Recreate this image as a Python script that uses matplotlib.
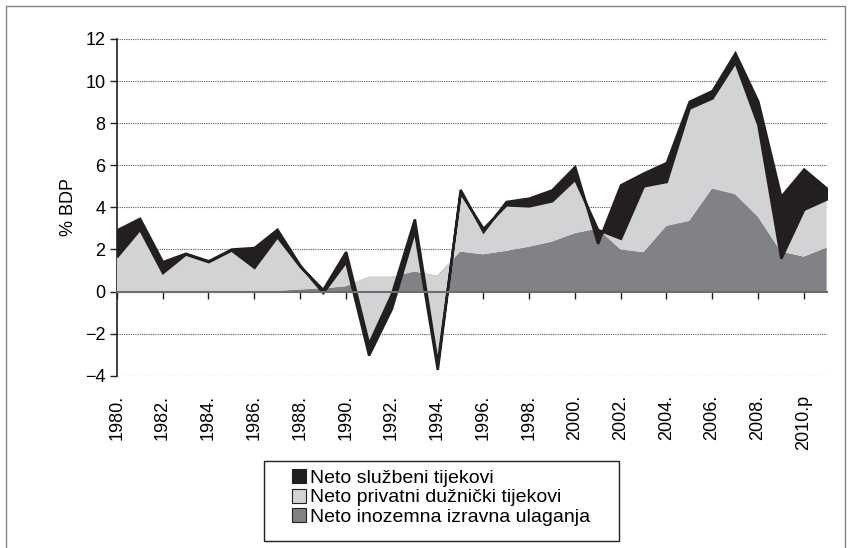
import matplotlib
matplotlib.use("Agg")
import matplotlib.pyplot as plt
from matplotlib.patches import Patch, Rectangle
from matplotlib.lines import Line2D

plt.rcParams["font.family"] = ["Liberation Sans", "DejaVu Sans"]

# data: % of GDP
years = list(range(1980, 2012))
fdi = [0, 0, 0, 0, 0, 0, 0, 0.03, 0.1, 0.15, 0.25, 0.7, 0.7, 0.95, 0.75, 1.9,
       1.77, 1.93, 2.13, 2.37, 2.77, 3.0, 2.0, 1.87, 3.12, 3.36, 4.9, 4.63, 3.56,
       1.9, 1.66, 2.09]
private = [1.66, 2.96, 0.9, 1.78, 1.42, 1.97, 1.15, 2.58, 1.1, -0.05, 1.65, -3.17,
           -0.8, 2.5, -4.15, 2.8, 1.23, 2.19, 1.94, 1.94, 2.57, -0.05, 0.53, 3.15,
           2.11, 5.36, 4.3, 6.27, 4.37, -0.32, 2.25, 2.31]
official = [1.27, 0.52, 0.52, 0.04, 0.04, 0.05, 0.94, 0.35, 0.05, -0.15, -0.48, -0.55,
            -0.7, -0.55, -0.3, 0.15, -0.15, 0.16, 0.37, 0.52, 0.6, -0.66, 2.54, 0.61,
            0.9, 0.32, 0.35, 0.44, 1.11, 2.94, 1.91, 0.51]

tick_years = list(range(1980, 2011, 2))
tick_labels = [str(y) + "." for y in tick_years[:-1]] + ["2010.p"]
series_names = ["Neto službeni tijekovi", "Neto privatni dužnički tijekovi",
                "Neto inozemna izravna ulaganja"]

c_black = "#231f20"
c_light = "#d1d3d4"
c_dark = "#808285"

W, H = 851, 548
fig = plt.figure(figsize=(W / 100, H / 100), dpi=100)
ax = fig.add_axes([116.7 / W, 1 - 375.7 / H, (826.6 - 116.7) / W, (375.7 - 39) / H])

# stacked areas, later series paint over earlier ones (like the original)
polys = ax.stackplot(years, fdi, private, official,
                     colors=[c_dark, c_light, c_black], zorder=3)
polys[0].set_edgecolor("none")
polys[1].set_edgecolor("none")
polys[2].set_edgecolor(c_black)
polys[2].set_linewidth(1.8)
polys[2].set_joinstyle("miter")

ax.set_xlim(1980, 2011)
ax.set_ylim(-4, 12)
ax.set_yticks(range(-4, 13, 2))
ax.tick_params(axis="y", labelsize=13, length=5, width=1, color="#231f20", pad=3)
for y in range(-4, 13, 2):
    if y != 0:
        ax.axhline(y, color="#58595b", lw=0.8, ls=(0, (1, 1)), zorder=1)

for s in ["top", "right"]:
    ax.spines[s].set_visible(False)
ax.spines["left"].set_color("#231f20")
ax.spines["left"].set_linewidth(1.2)
ax.spines["bottom"].set_position(("data", 0))
ax.spines["bottom"].set_color("#6d6e71")
ax.spines["bottom"].set_linewidth(1.5)
ax.spines["bottom"].set_zorder(5)
ax.set_xticks(tick_years)
ax.set_xticklabels([])
ax.tick_params(axis="x", length=5, width=1, color="#231f20", direction="out")

for yr, lab in zip(tick_years, tick_labels):
    ax.text(yr, -0.057, lab, transform=ax.get_xaxis_transform(), rotation=90,
            ha="center", va="top", fontsize=13)

ax.set_ylabel("% BDP", fontsize=13, labelpad=6)

# legend
handles = [Patch(facecolor=c, edgecolor="#231f20", lw=0.8)
           for c in [c_black, c_light, c_dark]]
fig.legend(handles, series_names, loc="upper left",
           bbox_to_anchor=(292 / W, 1 - 469 / H), frameon=False, fontsize=14,
           handlelength=0.72, handleheight=0.72, handletextpad=0.2,
           labelspacing=0.1, borderaxespad=0, borderpad=0)
fig.patches.append(Rectangle((264 / W, 1 - 541 / H), (619 - 264) / W, (541 - 461) / H,
                             transform=fig.transFigure, fill=False,
                             edgecolor="#231f20", lw=1))

# outer frame of the chart
fig.add_artist(Line2D([6 / W, 6 / W, 845 / W, 845 / W], [0, 1 - 6 / H, 1 - 6 / H, 0],
                      transform=fig.transFigure, color="#808285", lw=1))

fig.savefig("out.png", dpi=100)
